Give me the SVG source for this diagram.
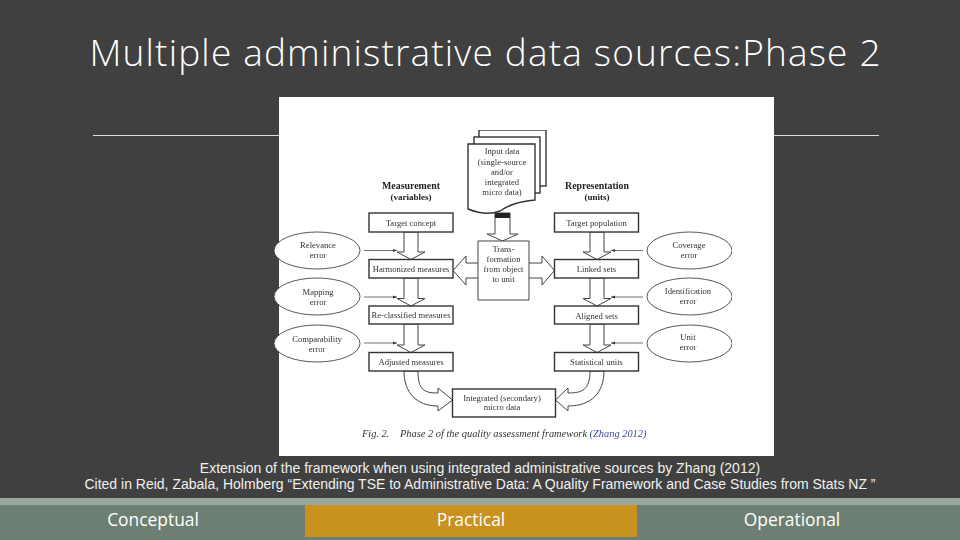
<svg xmlns="http://www.w3.org/2000/svg" width="960" height="540" viewBox="0 0 960 540">
<style>
.box{fill:#fff;stroke:#333;stroke-width:1.4}
.ell{fill:#fff;stroke:#444;stroke-width:.9}
.arr{fill:#fff;stroke:#444;stroke-width:1}
.ln{fill:none;stroke:#333;stroke-width:.7}
.t{font-family:"Liberation Serif",serif;font-size:8.6px;fill:#333;text-anchor:middle}
.b{font-weight:bold;font-size:9.9px;fill:#222}
.i{font-family:"Liberation Serif",serif;font-style:italic;font-size:10.4px;fill:#333}
.cap{font-family:"Liberation Sans",Arial,sans-serif;font-size:14px;fill:#f0f0f0;text-anchor:middle}
.tab{font-family:"Open Sans",sans-serif;font-size:17.4px;font-weight:400;fill:#fff;text-anchor:middle}
</style>
<defs>
<marker id="h" markerWidth="7" markerHeight="6" refX="6" refY="3" orient="auto"><path d="M0 .8L6 3L0 5.2z" fill="#333"/></marker>
<filter id="soft" x="0" y="0" width="1" height="1"><feGaussianBlur stdDeviation=".4"/></filter>
</defs>
<rect width="960" height="540" fill="#404040"/>
<text x="485" y="66" font-family="Open Sans,sans-serif" font-size="37" font-weight="300" fill="#fff" text-anchor="middle" textLength="791" lengthAdjust="spacing">Multiple administrative data sources:Phase 2</text>
<path d="M93 135.5H879" stroke="#ddd" stroke-width="1"/>
<rect x="279" y="97" width="495" height="359" fill="#fff"/>
<g filter="url(#soft)">
<g id="connectors">
<path class="arr" d="M404 232V252H397L411 259.5L425 252H418V232z"/>
<path class="arr" d="M404 278V298.500H397L411 306L425 298.500H418V278z"/>
<path class="arr" d="M404 324V345H397L411 352.500L425 345H418V324z"/>
<path class="arr" d="M590 232V252H583L597 259.500L611 252H604V232z"/>
<path class="arr" d="M590 278V298.500H583L597 306L611 298.500H604V278z"/>
<path class="arr" d="M590 324V345H583L597 352.500L611 345H604V324z"/>
<path class="arr" d="M495 213V234H487L502.500 241L518 234H510V213z"/>
<rect x="495" y="213" width="15" height="5" fill="#222"/>
<path class="arr" d="M478 263H466V256L453 270.500L466 285V278H478z"/>
<path class="arr" d="M529 263H542V256L554.500 270.500L542 285V278H529z"/>
<path class="arr" d="M404 371C404 392 416 406 438 406V411L452.500 400L438 388V393C424 393 418 390 418 371z"/>
<path class="arr" d="M604 371C604 392 592 406 568 406V411L555.500 400L568 388V393C582 393 590 390 590 371z"/>
<path class="ln" marker-end="url(#h)" d="M364 250.500H397"/>
<path class="ln" marker-end="url(#h)" d="M364 297H397"/>
<path class="ln" marker-end="url(#h)" d="M364 343H397"/>
<path class="ln" marker-end="url(#h)" d="M643 250.500H611"/>
<path class="ln" marker-end="url(#h)" d="M643 297H611"/>
<path class="ln" marker-end="url(#h)" d="M643 343H611"/>
</g>
<g id="input-data">
<rect class="box" x="479" y="130" width="67" height="56" stroke-width="1"/>
<rect class="box" x="474" y="137" width="66" height="56" stroke-width="1"/>
<path class="box" stroke-width="1" d="M468 144H535V200C520 201 510 204 500 211C490 215 478 213 468 209z"/>
<text class="t" x="502" y="154">Input data</text>
<text class="t" x="502" y="165">(single-source</text>
<text class="t" x="502" y="175">and/or</text>
<text class="t" x="502" y="185">integrated</text>
<text class="t" x="502" y="195">micro data)</text>
</g>
<g id="head-measurement"><text class="t b" x="411" y="189">Measurement</text><text class="t b" x="411" y="200" style="font-size:9px">(variables)</text></g>
<g id="head-representation"><text class="t b" x="597" y="189">Representation</text><text class="t b" x="597" y="200" style="font-size:9px">(units)</text></g>
<g id="target-concept"><rect class="box" x="369" y="213" width="84" height="19"/><text class="t" x="411" y="226">Target concept</text></g>
<g id="harmonized"><rect class="box" x="369" y="259.500" width="84" height="18.500"/><text class="t" x="411" y="271.500">Harmonized measures</text></g>
<g id="reclassified"><rect class="box" x="369" y="306" width="84" height="18"/><text class="t" x="411" y="317.500">Re-classified measures</text></g>
<g id="adjusted"><rect class="box" x="369" y="352.500" width="84" height="18.500"/><text class="t" x="411" y="365">Adjusted measures</text></g>
<g id="target-population"><rect class="box" x="554.500" y="213" width="84" height="19"/><text class="t" x="596.500" y="226">Target population</text></g>
<g id="linked"><rect class="box" x="554.500" y="259.500" width="84" height="18.500"/><text class="t" x="596.500" y="272">Linked sets</text></g>
<g id="aligned"><rect class="box" x="554.500" y="306" width="84" height="18"/><text class="t" x="596.500" y="319">Aligned sets</text></g>
<g id="statistical"><rect class="box" x="554.500" y="352.500" width="84" height="18.500"/><text class="t" x="596.500" y="365">Statistical units</text></g>
<g id="integrated"><rect class="box" x="452.500" y="389" width="103" height="28" stroke-width="1"/><text class="t" x="502" y="401">Integrated (secondary)</text><text class="t" x="502" y="410">micro data</text></g>
<g id="transformation"><path fill="#fff" stroke="#444" stroke-width="1" d="M478 263V241H529V263M529 278V300H478V278"/>
<text class="t" x="503.500" y="252">Trans-</text><text class="t" x="503.500" y="262">formation</text><text class="t" x="503.500" y="272">from object</text><text class="t" x="503.500" y="282">to unit</text></g>
<g id="relevance"><ellipse class="ell" cx="317" cy="250.500" rx="43" ry="18.500"/><text class="t" x="318" y="248">Relevance</text><text class="t" x="318" y="258">error</text></g>
<g id="mapping"><ellipse class="ell" cx="317" cy="296.500" rx="43" ry="18.500"/><text class="t" x="318" y="295">Mapping</text><text class="t" x="318" y="305">error</text></g>
<g id="comparability"><ellipse class="ell" cx="317" cy="343.500" rx="43" ry="18.500"/><text class="t" x="317" y="342">Comparability</text><text class="t" x="317" y="352">error</text></g>
<g id="coverage"><ellipse class="ell" cx="689.500" cy="250.500" rx="42.500" ry="18.500"/><text class="t" x="689" y="248">Coverage</text><text class="t" x="689" y="258">error</text></g>
<g id="identification"><ellipse class="ell" cx="689.500" cy="296.500" rx="42.500" ry="18.500"/><text class="t" x="688" y="294">Identification</text><text class="t" x="688" y="304">error</text></g>
<g id="unit"><ellipse class="ell" cx="689.500" cy="343.500" rx="42.500" ry="18.500"/><text class="t" x="688" y="340">Unit</text><text class="t" x="688" y="350">error</text></g>
<g id="figure-caption"><text class="i" x="362" y="437">Fig. 2.</text><text class="i" x="400" y="437">Phase 2 of the quality assessment framework <tspan fill="#3a4a9a">(Zhang 2012)</tspan></text></g>
</g>
<text class="cap" x="480" y="473">Extension of the framework when using integrated administrative sources by Zhang (2012)</text>
<text class="cap" x="480" y="489">Cited in Reid, Zabala, Holmberg “Extending TSE to Administrative Data: A Quality Framework and Case Studies from Stats NZ ”</text>
<rect y="498" width="960" height="7" fill="#98a89e"/>
<rect y="505" width="960" height="35" fill="#6d7f72"/>
<rect x="305" y="505" width="332" height="32" fill="#c9911e"/>
<g id="tab-conceptual"><text class="tab" x="153" y="526">Conceptual</text></g>
<g id="tab-practical"><text class="tab" x="471" y="526">Practical</text></g>
<g id="tab-operational"><text class="tab" x="792" y="526">Operational</text></g>
</svg>
